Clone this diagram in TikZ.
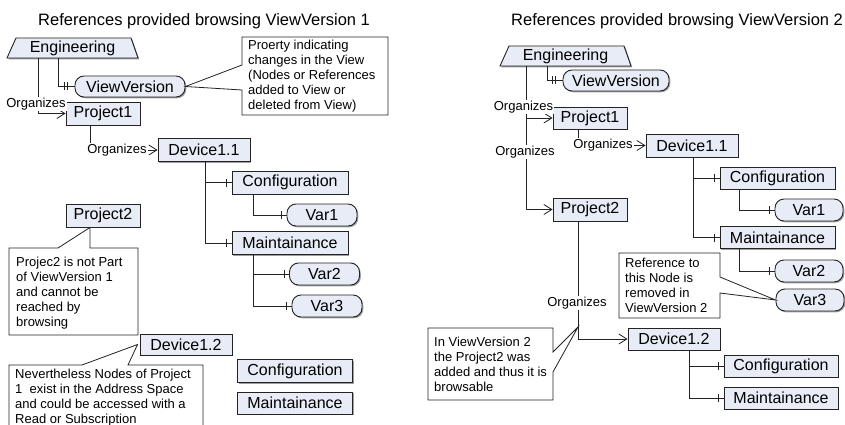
\documentclass[tikz,border=0pt]{standalone}
\usepackage{fontspec}
\setmainfont{Liberation Sans}
\usetikzlibrary{arrows.meta,decorations.markings,calc,shadows}
\definecolor{nfill}{RGB}{232,236,247}
\definecolor{ink}{RGB}{35,35,35}
\definecolor{shade}{RGB}{160,160,160}
\tikzset{
  box/.style={draw=ink, fill=nfill, line width=0.9pt, minimum height=23pt, inner sep=0pt, font=\fontsize{16}{19}\selectfont,
     drop shadow={shadow xshift=1.3pt, shadow yshift=-1.3pt, fill=shade, opacity=1}},
  rbox/.style={box, rounded corners=9pt, minimum height=22pt},
  lbl/.style={fill=white, inner sep=1pt, font=\fontsize{13}{15}\selectfont},
  ctext/.style={inner sep=0pt, align=left, anchor=north west, font=\fontsize{13}{15}\selectfont},
  callout/.style={draw=ink, fill=white, line width=0.8pt},
  conn/.style={draw=ink, line width=0.8pt},
  org/.style={conn, -{Straight Barb[length=8pt,width=10pt]}},
  comp/.style={conn, postaction={decorate}, decoration={markings,
     mark=at position -5pt with {\draw[ink, line width=0.8pt] (0pt,-4pt) -- (0pt,4pt);}}},
  prop/.style={conn, postaction={decorate}, decoration={markings,
     mark=at position -7pt with {\draw[ink, line width=0.8pt] (0pt,-4pt) -- (0pt,4pt);},
     mark=at position -10pt with {\draw[ink, line width=0.8pt] (0pt,-4pt) -- (0pt,4pt);}}},
  ttl/.style={font=\fontsize{16.5}{19}\selectfont, inner sep=0pt, anchor=base west},
}
\begin{document}
\begin{tikzpicture}[x=1pt, y=-1pt]
\useasboundingbox (0,0) rectangle (845,425);
\clip (0,0) rectangle (845,425);
\fill[white] (0,0) rectangle (845,425);

% ---------------- titles
\node[ttl] (t1) at (38,26) {References provided browsing ViewVersion 1};
\node[ttl] (t2) at (511,26) {References provided browsing ViewVersion 2};

% ---------------- left diagram
\draw[box] (7,58) -- (16,38) -- (131,38) -- (138,58) -- cycle;
\node[inner sep=0pt, minimum width=131pt, minimum height=20pt, font=\fontsize{16}{19}\selectfont] (eng) at (72.5,48) {Engineering};
\node[rbox, minimum width=110pt, minimum height=21pt] (vv1) at (130,86.5) {ViewVersion};
\node[box, minimum width=74pt] (p1) at (103,113.5) {Project1};
\node[box, minimum width=92pt] (d11) at (204,150) {Device1.1};
\node[box, minimum width=116pt] (c1) at (290,182.5) {Configuration};
\node[box, minimum width=116pt] (m1) at (290,243) {Maintainance};
\node[rbox, minimum width=70pt] (v1) at (322,215) {Var1};
\node[rbox, minimum width=70pt] (v2) at (324.5,274) {Var2};
\node[rbox, minimum width=70pt] (v3) at (327,306) {Var3};
\node[box, minimum width=74pt] (p2) at (103,215.5) {Project2};
\node[box, minimum width=92pt, minimum height=21pt] (d12) at (186,344.5) {Device1.2};
\node[box, minimum width=115pt] (c1b) at (295,371) {Configuration};
\node[box, minimum width=115pt, minimum height=22pt] (m1b) at (295,403) {Maintainance};

\draw[prop] ([xshift=-14.5pt]eng.south) |- (vv1.west);
\draw[org] ([xshift=-34.5pt]eng.south) |- (p1.west);
\draw[org] ([xshift=-13pt]p1.south) |- (d11.west);
\draw[comp] ([xshift=1pt]d11.south) |- (c1.west);
\draw[comp] ([xshift=1pt]d11.south) |- (m1.west);
\draw[comp] ([xshift=-37pt]c1.south) |- (v1.west);
\draw[comp] ([xshift=-37pt]m1.south) |- (v2.west);
\draw[comp] ([xshift=-37pt]m1.south) |- (v3.west);
\node[lbl] (o1) at (36,104) {Organizes};
\node[lbl] (o2) at (117,150) {Organizes};

% callouts left
\draw[callout] (242,37) -- (388,37) -- (388,115) -- (242,115) -- (242,90) -- (vv1.east) -- (242,65) -- cycle;
\node[ctext] (tA) at (248,40) {Proerty indicating\\changes in the View\\(Nodes or References\\added to View or\\deleted from View)};
\draw[callout] (9,248) -- (58,248) -- ([xshift=-13pt]p2.south) -- (90,248) -- (138,248) -- (138,335) -- (9,335) -- cycle;
\node[ctext] (tB) at (16,256.5) {Projec2 is not Part\\of ViewVersion 1\\and cannot be\\reached by\\browsing};
\draw[callout] (9,365) -- (82,365) -- ([xshift=-2pt]d12.west) -- (128,365) -- (203,365) -- (203,440) -- (9,440) -- cycle;
\node[ctext] (tC) at (15,369) {Nevertheless Nodes of Project\\1~ exist in the Address Space\\and could be accessed with a\\Read or Subscription};

% ---------------- right diagram
\draw[box] (500,66) -- (509,46) -- (624,46) -- (631,66) -- cycle;
\node[inner sep=0pt, minimum width=131pt, minimum height=20pt, font=\fontsize{16}{19}\selectfont] (eng2) at (565.5,56) {Engineering};
\node[rbox, minimum width=106pt, minimum height=21pt] (vv2) at (616,80.5) {ViewVersion};
\node[box, minimum width=74pt, minimum height=22pt] (p1b) at (590,118) {Project1};
\node[box, minimum width=92pt] (d11b) at (692,145.5) {Device1.1};
\node[box, minimum width=115pt, minimum height=22pt] (c2) at (777.5,178) {Configuration};
\node[box, minimum width=115pt, minimum height=22pt] (m2) at (777.5,237.5) {Maintainance};
\node[rbox, minimum width=68pt] (v1b) at (809,210) {Var1};
\node[rbox, minimum width=68pt] (v2b) at (809,271) {Var2};
\node[rbox, minimum width=68pt] (v3b) at (810,300) {Var3};
\node[box, minimum width=74pt] (p2b) at (590,209.5) {Project2};
\node[box, minimum width=92pt, minimum height=22pt] (d12b) at (674,339) {Device1.2};
\node[box, minimum width=114pt, minimum height=22pt] (c2b) at (781,366) {Configuration};
\node[box, minimum width=114pt, minimum height=22pt] (m2b) at (781,398) {Maintainance};

\draw[prop] ([xshift=-18.5pt]eng2.south) |- (vv2.west);
\draw[org] ([xshift=-39.5pt]eng2.south) |- (p2b.west);
\draw[org] ([xshift=-39.5pt]eng2.south) |- (p1b.west);
\draw[org] ([xshift=-12pt]p1b.south) |- (d11b.west);
\draw[comp] ([xshift=1pt]d11b.south) |- (c2.west);
\draw[comp] ([xshift=1pt]d11b.south) |- (m2.west);
\draw[comp] ([xshift=-38.5pt]c2.south) |- (v1b.west);
\draw[comp] ([xshift=-38.5pt]m2.south) |- (v2b.west);
\draw[org] ([xshift=-12pt]p2b.south) |- (d12b.west);
\draw[comp] ([xshift=15pt]d12b.south) |- (c2b.west);
\draw[comp] ([xshift=15pt]d12b.south) |- (m2b.west);
\node[lbl] (o3) at (523.5,107) {Organizes};
\node[lbl] (o4) at (525,152) {Organizes};
\node[lbl] (o5) at (603,145.5) {Organizes};
\node[lbl] (o6) at (577,303) {Organizes};

% callouts right
\coordinate (apxE) at (578,327);
\draw[callout] (619,253) -- (720,253) -- (720,277) -- (v3b.west) -- (720,293) -- (720,318) -- (619,318) -- cycle;
\node[ctext] (tD) at (625,258) {Reference to\\this Node is\\removed in\\ViewVersion 2};
\draw[callout] (428,328) -- (553,328) -- (553,352) -- (apxE) -- (553,372) -- (553,400) -- (428,400) -- cycle;
\node[ctext] (tE) at (434,337) {In ViewVersion 2\\the Project2 was\\added and thus it is\\browsable};
\end{tikzpicture}
\end{document}
